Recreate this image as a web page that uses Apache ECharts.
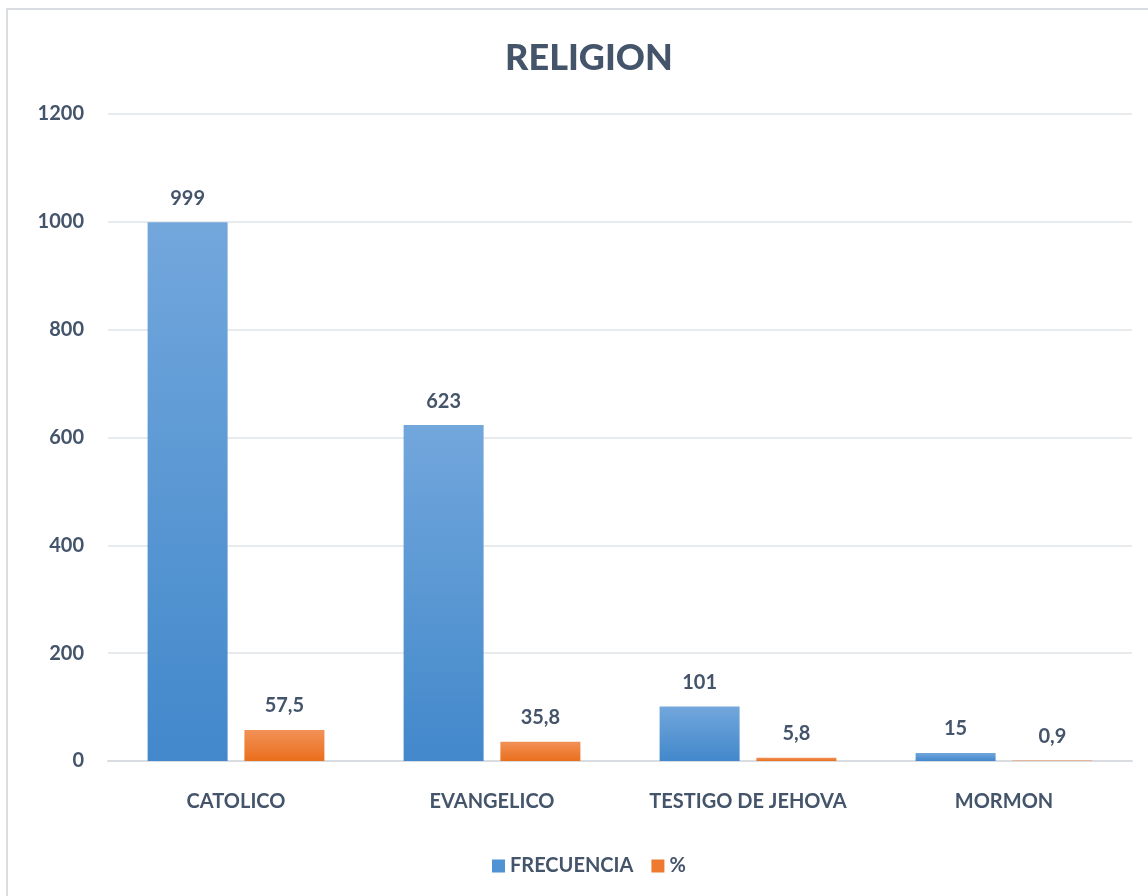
<!DOCTYPE html>
<html>
<head>
<meta charset="utf-8">
<script src="https://cdn.jsdelivr.net/npm/echarts@6/dist/echarts.min.js"></script>
<style>
html,body{margin:0;padding:0;background:#fff;}
#c{width:1148px;height:896px;}
</style>
</head>
<body>
<div id="c"></div>
<script>
const categories = ['CATOLICO', 'EVANGELICO', 'TESTIGO DE JEHOVA', 'MORMON'];
const frecuencia = [999, 623, 101, 15];
const porcentaje = [57.5, 35.8, 5.8, 0.9];
const yTicks = [0, 200, 400, 600, 800, 1000, 1200];

const txt = '#44546A';
const font = 'Lato, "Open Sans", sans-serif';
const blueGrad = new echarts.graphic.LinearGradient(0, 0, 0, 1, [
  {offset: 0, color: '#72A7DC'}, {offset: 1, color: '#4288CB'}]);
const orangeGrad = new echarts.graphic.LinearGradient(0, 0, 0, 1, [
  {offset: 0, color: '#F29158'}, {offset: 1, color: '#EA6E1C'}]);
const fmt = p => String(p.value).replace('.', ',');

const chart = echarts.init(document.getElementById('c'));
chart.setOption({
  animation: false,
  backgroundColor: '#fff',
  graphic: [{
    type: 'rect', shape: {x: 7, y: 9, width: 1200, height: 1000},
    style: {fill: 'none', stroke: '#D9DCE1', lineWidth: 2}, silent: true, z: -10
  }],
  title: {
    text: 'RELIGION', left: 584, textAlign: 'center', top: 35,
    textStyle: {color: txt, fontSize: 36, fontWeight: 900, fontFamily: font}
  },
  legend: {
    bottom: 15, left: 487, itemWidth: 13, itemHeight: 13, itemGap: 18,
    icon: 'rect',
    textStyle: {color: txt, fontSize: 20, fontWeight: 'bold', fontFamily: font},
    data: [{name: 'FRECUENCIA', itemStyle: {color: '#4F93D4'}}, {name: '%', itemStyle: {color: '#EE7A30'}}]
  },
  grid: {left: 108, right: 16, top: 114, bottom: 135, containLabel: false},
  xAxis: {
    type: 'category', data: categories,
    axisLine: {show: true, lineStyle: {color: '#D9DCE1', width: 2}},
    axisTick: {show: false},
    axisLabel: {color: txt, fontSize: 20, fontWeight: 'bold', fontFamily: font, margin: 31, interval: 0}
  },
  yAxis: {
    type: 'value', min: 0, max: 1200, interval: 200,
    axisLine: {show: false}, axisTick: {show: false},
    splitLine: {lineStyle: {color: '#E1E4E8', width: 1.5}},
    axisLabel: {color: txt, fontSize: 20, fontWeight: 'bold', fontFamily: font, margin: 24,
      formatter: v => yTicks.includes(v) ? String(v) : ''}
  },
  series: [
    {
      name: 'FRECUENCIA', type: 'bar', data: frecuencia, barWidth: 80, barGap: '21%',
      itemStyle: {color: blueGrad},
      label: {show: true, position: 'top', distance: 14, color: txt, fontSize: 20,
        fontWeight: 'bold', fontFamily: font, formatter: fmt}
    },
    {
      name: '%', type: 'bar', data: porcentaje, barWidth: 80,
      itemStyle: {color: orangeGrad},
      label: {show: true, position: 'top', distance: 14, color: txt, fontSize: 20,
        fontWeight: 'bold', fontFamily: font, formatter: fmt}
    }
  ]
});
</script>
</body>
</html>
